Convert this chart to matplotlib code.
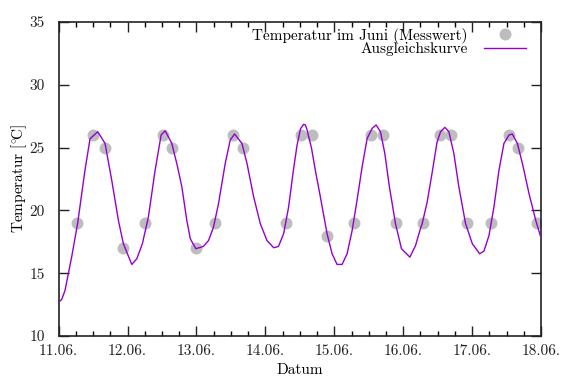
import matplotlib
matplotlib.use("Agg")
import matplotlib.pyplot as plt
from matplotlib.ticker import MultipleLocator, FixedLocator

plt.rcParams['font.family'] = ['cmr10', 'DejaVu Serif']
plt.rcParams['mathtext.fontset'] = 'cm'
plt.rcParams['axes.unicode_minus'] = False

# Tick labels (dates)
date_labels = ["11.06.", "12.06.", "13.06.", "14.06.", "15.06.", "16.06.", "17.06.", "18.06."]

# Measurements: time in days after 11.06. 00:00, temperature in °C
meas_day = [0.27, 0.50, 0.67, 0.94,
            1.26, 1.51, 1.65, 1.99,
            2.27, 2.53, 2.67,
            3.30, 3.51, 3.68, 3.90,
            4.29, 4.53, 4.70, 4.90,
            5.29, 5.53, 5.69, 5.93,
            6.28, 6.53, 6.67, 6.94]
meas_temp = [19, 26, 25, 17,
             19, 26, 25, 17,
             19, 26, 25,
             19, 26, 26, 18,
             19, 26, 26, 19,
             19, 26, 26, 19,
             19, 26, 25, 19]

# Fitted curve
fit_day = [0.000, 0.043, 0.091, 0.140, 0.189, 0.276, 0.382, 0.455, 0.567, 0.673,
           0.770, 0.867, 0.939, 1.061, 1.134, 1.215, 1.302, 1.400, 1.487, 1.545,
           1.642, 1.720, 1.788, 1.860, 1.910, 1.990, 2.100, 2.175, 2.247, 2.320,
           2.417, 2.490, 2.553, 2.660, 2.733, 2.830, 2.926, 3.023, 3.120, 3.190,
           3.265, 3.337, 3.410, 3.460, 3.510, 3.555, 3.580, 3.600, 3.670, 3.720,
           3.798, 3.895, 3.968, 4.040, 4.113, 4.186, 4.259, 4.330, 4.404, 4.477,
           4.550, 4.607, 4.670, 4.733, 4.800, 4.888, 4.975, 5.097, 5.179, 5.250,
           5.276, 5.348, 5.420, 5.490, 5.542, 5.605, 5.663, 5.735, 5.808, 5.905,
           6.003, 6.109, 6.172, 6.245, 6.317, 6.390, 6.462, 6.535, 6.584, 6.657,
           6.730, 6.826, 6.924, 6.996]
fit_temp = [12.70, 12.90, 13.60, 14.95, 16.30, 19.00, 23.20, 25.70, 26.26, 25.33,
            22.40, 19.20, 17.35, 15.70, 16.15, 17.35, 19.47, 23.20, 26.00, 26.34,
            25.33, 23.60, 21.87, 19.20, 17.75, 16.95, 17.13, 17.60, 18.67, 20.54,
            23.74, 25.60, 26.08, 25.33, 23.74, 21.07, 18.95, 17.60, 17.03, 17.13,
            18.15, 20.27, 23.34, 25.20, 26.50, 26.85, 26.80, 26.50, 24.94, 23.34,
            21.07, 18.15, 16.55, 15.70, 15.70, 16.55, 18.40, 20.80, 23.47, 25.73,
            26.53, 26.80, 26.26, 24.54, 21.87, 18.95, 16.95, 16.28, 17.20, 18.55,
            18.95, 20.67, 23.00, 25.40, 26.26, 26.61, 26.26, 24.54, 21.87, 18.95,
            17.35, 16.55, 16.76, 18.00, 20.27, 23.20, 25.33, 26.00, 26.08, 25.33,
            23.74, 21.34, 19.20, 17.88]

fig = plt.figure(figsize=(5.78, 3.78), dpi=100)
ax = fig.add_axes([0.1015, 0.111, 0.8345, 0.831])

ax.plot(meas_day, meas_temp, linestyle='none', marker='o', markersize=8.6,
        markerfacecolor='#bdbdbd', markeredgecolor='none',
        label='Temperatur im Juni (Messwert)', zorder=2)
ax.plot(fit_day, fit_temp, color='#9400d3', linewidth=1.0,
        label='Ausgleichskurve', zorder=3)

ax.set_xlim(0, 7)
ax.set_ylim(10, 35)
ax.xaxis.set_major_locator(FixedLocator(range(len(date_labels))))
ax.set_xticklabels(date_labels)
ax.xaxis.set_minor_locator(MultipleLocator(0.25))
ax.yaxis.set_major_locator(MultipleLocator(5))

FS = 11
ax.tick_params(axis='both', which='major', direction='in', length=7, width=1,
               top=True, right=True, labelsize=FS, colors='#222222')
ax.tick_params(axis='x', which='minor', direction='in', length=3.5, width=1,
               top=True, bottom=True)
ax.tick_params(axis='x', which='major', pad=6)
ax.tick_params(axis='y', which='major', pad=10)
for s in ax.spines.values():
    s.set_linewidth(1.2)
    s.set_color('#222222')

ax.set_xlabel('Datum', fontsize=FS, labelpad=4)
ax.set_ylabel(r'$\mathrm{Temperatur\ [^{\circ}\!C]}$', fontsize=FS, labelpad=0)

leg = ax.legend(loc='upper right', bbox_to_anchor=(0.969, 0.982),
                markerfirst=False, frameon=False, fontsize=FS,
                handlelength=2.75, handletextpad=1.05, labelspacing=-0.1,
                borderaxespad=0.0, borderpad=0.0, numpoints=1)

fig.savefig('out.png', dpi=100)
